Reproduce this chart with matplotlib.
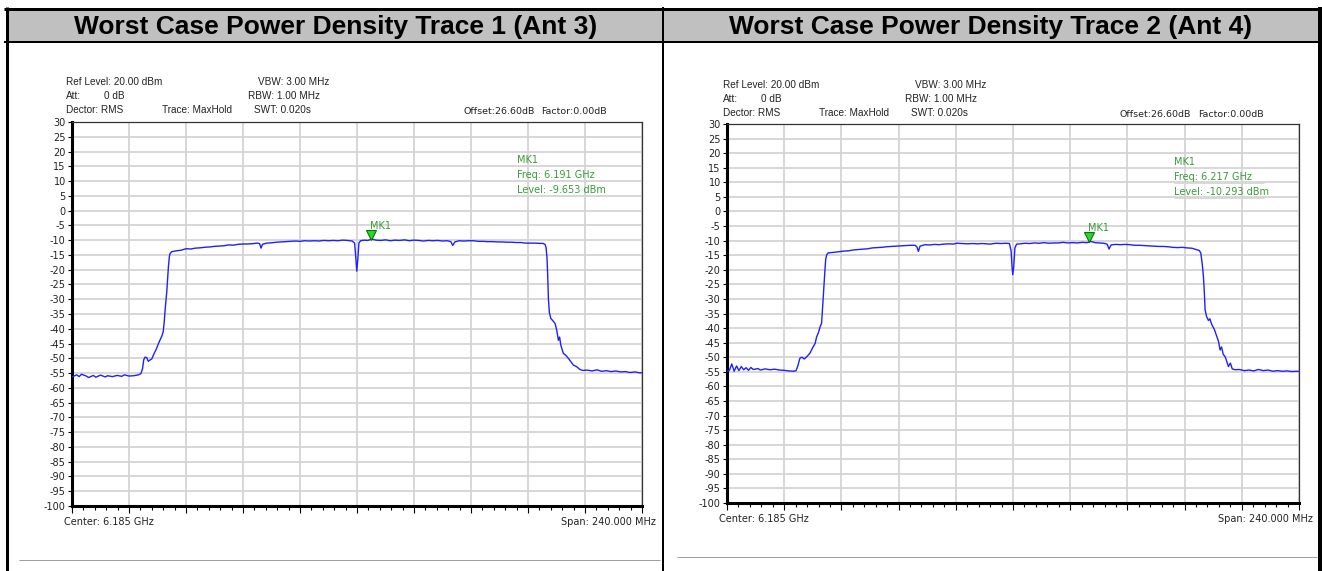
import numpy as np
import matplotlib.pyplot as plt
from matplotlib.lines import Line2D
from matplotlib.patches import Rectangle

# frequency offset from centre (MHz) and level (dBm)
freq_ant3 = [-120, -118, -117, -116, -114, -113, -111, -110, -108, -106, -105, -103, -101, -99, -98,
             -96, -94, -92, -91, -90.3, -89.8, -89.2, -88.5, -87.9, -87.2, -86.4, -85.5, -84.4, -83.6,
             -83.0, -82.2, -81.6, -81.2, -80.8, -80.4, -80.1, -79.7, -79.4, -79.0, -78.7, -78.0,
             -76, -74, -72, -70, -68, -66, -64, -62, -60, -58, -56, -54, -52, -50, -48, -46, -44, -42,
             -41, -40.4, -39.8, -38, -36, -34, -32, -30, -28, -26, -24, -22, -20, -18, -16, -14, -12,
             -10, -8, -6, -4, -2, -1.0, -0.5, -0.1, 0.3, 0.8, 1.5, 3, 4.5, 6.3, 8, 10, 12, 14, 16, 18,
             20, 22, 24, 26, 28, 30, 32, 34, 36, 38, 39.5, 40.3, 41.2, 43, 45, 47, 49, 51, 53, 55, 57,
             59, 61, 63, 65, 67, 69, 71, 73, 75, 77, 78.4, 79.2, 79.6, 80.0, 80.3, 80.6, 81.0, 81.6,
             82.5, 83.4, 84.1, 84.8, 85.3, 85.8, 86.9, 87.8, 89.0, 90.1, 91.1, 92.4, 93.9, 95, 97, 99,
             101, 103, 105, 107, 109, 111, 113, 115, 117, 119, 120]
level_ant3 = [-56.3, -55.6, -56.2, -55.4, -56.0, -56.5, -55.8, -56.4, -55.7, -56.3, -55.9, -56.2, -55.8,
              -56.1, -55.6, -56.0, -55.9, -55.6, -55.2, -53.5, -50.5, -49.6, -49.8, -51.0, -50.6, -50.2,
              -48.5, -46.7, -45.0, -43.9, -42.5, -41.0, -38.0, -33.7, -30.0, -27.5, -22.5, -19.0, -15.5,
              -14.5, -13.9,
              -13.6, -13.4, -12.9, -13.0, -12.7, -12.6, -12.4, -12.3, -12.1, -12.0, -11.9, -11.6, -11.7,
              -11.4, -11.3, -11.3, -11.2, -11.0, -11.2, -12.7, -11.4, -11.0, -10.9, -10.7, -10.6, -10.5,
              -10.4, -10.3, -10.4, -10.2, -10.3, -10.2, -10.3, -10.1, -10.2, -10.1, -10.2, -10.0, -10.1,
              -10.3, -11.0, -16.0, -20.5, -17.0, -11.0, -10.2, -10.0, -10.1, -9.65, -10.0, -10.1, -9.9,
              -10.2, -10.0, -10.1, -9.9, -10.2, -10.0, -10.1, -10.3, -10.1, -10.2, -10.1, -10.3, -10.2,
              -10.5, -11.8, -10.6, -10.2, -10.3, -10.2, -10.2, -10.4, -10.4, -10.5, -10.5, -10.6, -10.6,
              -10.7, -10.7, -10.8, -10.8, -11.0, -11.0, -11.0, -11.1, -11.1, -11.5, -12.5, -16.0, -22.0,
              -30.0, -34.5, -36.5, -37.3, -38.2, -40.5, -43.9, -42.8, -45.5, -48.4, -48.9, -50.0, -51.2,
              -52.3, -52.8, -53.8, -54.1, -54.0, -54.3, -53.9, -54.4, -54.2, -54.5, -54.3, -54.6, -54.5,
              -54.8, -54.6, -54.9, -54.9]

freq_ant4 = [-120, -119, -118, -117, -116, -115, -114, -113, -112, -111, -110, -109, -107, -106, -104,
             -102, -100, -98, -96, -94, -92, -91, -90.3, -89.4, -88.5, -87.6, -86.6, -85.2, -84.1, -83,
             -82.4, -81.7, -80.9, -80.3, -79.9, -79.6, -79.2, -78.9, -78.6, -78.2, -77.5, -75, -73, -71,
             -69, -67, -65.6, -63, -61, -59, -57, -55, -53, -51, -49, -47.4, -45, -43, -41, -40.3, -39.7,
             -39, -37, -35, -33, -31, -29, -27, -25, -23.6, -21, -19, -17, -15, -13, -11, -9.6, -7, -5,
             -3, -1.5, -0.8, -0.4, -0.1, 0.3, 0.8, 1.5, 3, 5, 7, 9, 11, 13, 15, 17, 19, 21, 23, 25, 27,
             29, 31, 32.7, 34.5, 36, 38, 39.5, 40.3, 41.1, 43, 45, 47, 49, 51, 53, 55, 57, 59, 61, 63,
             65, 67, 69, 71, 73, 75, 77.1, 78.2, 78.8, 79.4, 79.9, 80.3, 80.6, 81.2, 82.0, 82.6, 83.4,
             84.5, 85.5, 86.2, 86.9, 87.5, 88.2, 89.0, 89.7, 90.4, 91.2, 92.0, 93.2, 95, 97, 99, 101,
             103, 105, 107, 109, 111, 113, 115, 117, 119, 120]
level_ant4 = [-54.9, -54.5, -52.3, -54.8, -53.0, -54.6, -53.2, -54.3, -53.6, -54.5, -53.5, -54.2, -53.9,
              -54.4, -54.0, -54.3, -54.1, -54.4, -54.5, -54.7, -54.8, -54.6, -53.0, -50.3, -50.0, -50.6,
              -49.9, -48.6, -46.8, -45.2, -43.0, -41.7, -39.5, -38.3, -33.0, -29.2, -23.5, -20.0, -16.5,
              -14.9, -14.2, -14.0, -13.8, -13.6, -13.5, -13.2, -13.1, -12.9, -12.8, -12.5, -12.4, -12.3,
              -12.1, -12.0, -11.9, -11.8, -11.7, -11.6, -11.6, -12.2, -13.7, -11.9, -11.4, -11.5, -11.3,
              -11.4, -11.2, -11.1, -11.2, -10.9, -11.0, -11.1, -11.0, -11.1, -11.0, -11.1, -11.2, -10.9,
              -11.0, -10.9, -11.0, -13.5, -19.0, -21.7, -19.0, -12.5, -11.2, -11.1, -10.9, -11.0, -10.8,
              -10.9, -10.7, -10.9, -10.8, -10.8, -10.6, -10.8, -10.7, -10.8, -10.6, -10.7, -10.3, -10.7,
              -10.8, -10.9, -11.2, -12.9, -11.5, -11.3, -11.4, -11.3, -11.4, -11.6, -11.6, -11.7, -11.8,
              -11.9, -12.0, -12.0, -12.1, -12.3, -12.4, -12.3, -12.5, -12.6, -13.1, -13.4, -14.3, -18.0,
              -22.3, -28.0, -33.7, -36.0, -37.4, -36.8, -38.8, -40.5, -42.9, -44.5, -47.5, -46.5, -49.0,
              -49.8, -51.5, -53.2, -52.0, -54.0, -54.3, -54.2, -54.6, -54.4, -54.7, -54.2, -54.6, -54.4,
              -54.8, -54.6, -54.8, -54.7, -54.9, -54.8, -54.9]

titles = ["Worst Case Power Density Trace 1 (Ant 3)", "Worst Case Power Density Trace 2 (Ant 4)"]
mk_freq = [6.191, 6.217]        # GHz
mk_level = [-9.653, -10.293]    # dBm
center_ghz = 6.185
span_mhz = 240.0
y_ticks = list(range(30, -101, -5))

W, H = 1322, 571
fig = plt.figure(figsize=(W / 100, H / 100), dpi=100)
fig.patch.set_facecolor('white')


def fx(px):
    return px / W


def fy(py):
    return 1 - py / H


def hline(x0, x1, y, lw, color='black'):
    fig.add_artist(Line2D([fx(x0), fx(x1)], [fy(y), fy(y)], transform=fig.transFigure,
                          color=color, lw=lw * 0.72, solid_capstyle='butt'))


def vline(x, y0, y1, lw, color='black'):
    fig.add_artist(Line2D([fx(x), fx(x)], [fy(y0), fy(y1)], transform=fig.transFigure,
                          color=color, lw=lw * 0.72, solid_capstyle='butt'))


# table frame and grey header row
fig.add_artist(Rectangle((fx(7), fy(41)), fx(1318) - fx(7), 31 / H, transform=fig.transFigure,
                         facecolor='#c0c0c0', edgecolor='none'))
hline(4, 1322, 8.5, 3)
hline(4, 1322, 42, 2)
vline(6.5, 7, 571, 3)
vline(663, 7, 571, 2)
vline(1319.5, 7, 571, 4)
hline(19, 660, 560, 1, '#a0a0a0')
hline(677, 1317, 557, 1, '#a0a0a0')

for i, t in enumerate(titles):
    cx = 336 if i == 0 else 991
    fig.text(fx(cx), fy(27), t, ha='center', va='center', fontsize=19, fontweight='bold',
             family='Liberation Sans', color='black')

panels = [
    dict(box=(72, 642, 122, 506), freq=freq_ant3, level=level_ant3, dx=0, dy=0),
    dict(box=(727, 1299, 124, 503), freq=freq_ant4, level=level_ant4, dx=657, dy=3),
]

hdr = dict(fontsize=7.2, color='#222222', va='center', family='Liberation Sans')
small = dict(fontsize=7, color='#222222', va='center')
green = '#3a9a3a'

for i, p in enumerate(panels):
    l, r, t, b = p['box']
    ax = fig.add_axes([fx(l), fy(b), (r - l) / W, (b - t) / H])
    ax.plot(p['freq'], p['level'], color='#1f1fff', lw=1.0, zorder=3)
    ax.set_xlim(-span_mhz / 2, span_mhz / 2)
    ax.set_ylim(-100, 30)
    ax.set_xticks(np.arange(-120, 121, 24))
    ax.set_xticks(np.arange(-120, 121, 4.8), minor=True)
    ax.set_yticks(y_ticks)
    ax.set_yticklabels([str(v) for v in y_ticks])
    ax.tick_params(axis='x', which='major', length=5, width=0.8, direction='out', labelbottom=False)
    ax.tick_params(axis='x', which='minor', length=3, width=0.8, direction='out')
    ax.tick_params(axis='y', length=3, width=0.8, direction='out', pad=1.5, labelsize=7,
                   labelcolor='#222222')
    ax.grid(True, which='major', color='#d4d4d4', lw=1.3)
    ax.set_axisbelow(True)
    for s in ['left', 'bottom']:
        ax.spines[s].set_linewidth(2.2)
        ax.spines[s].set_color('black')
    for s in ['top', 'right']:
        ax.spines[s].set_linewidth(0.9)
        ax.spines[s].set_color('#333333')

    # marker
    mf = (mk_freq[i] - center_ghz) * 1000
    ml = mk_level[i]
    ax.plot([mf], [ml + 1.4], marker='v', ms=7, mfc='#22dd22', mec='#0f6f0f', mew=0.8,
            ls='none', zorder=4)
    ax.annotate('MK1', (mf, ml), xytext=(-1, 13), textcoords='offset pixels',
                fontsize=7, color=green, ha='left', va='center')

    dx, dy = p['dx'], p['dy']
    fig.text(fx(66 + dx), fy(82 + dy), 'Ref Level: 20.00 dBm', ha='left', **hdr)
    fig.text(fx(66 + dx), fy(96 + dy), 'Att:', ha='left', **hdr)
    fig.text(fx(104 + dx), fy(96 + dy), '0 dB', ha='left', **hdr)
    fig.text(fx(66 + dx), fy(110 + dy), 'Dector: RMS', ha='left', **hdr)
    fig.text(fx(162 + dx), fy(110 + dy), 'Trace: MaxHold', ha='left', **hdr)
    fig.text(fx(258 + dx), fy(82 + dy), 'VBW: 3.00 MHz', ha='left', **hdr)
    fig.text(fx(248 + dx), fy(96 + dy), 'RBW: 1.00 MHz', ha='left', **hdr)
    fig.text(fx(254 + dx), fy(110 + dy), 'SWT: 0.020s', ha='left', **hdr)
    fig.text(fx(463 + dx), fy(112 + dy), 'Offset:26.60dB', ha='left', fontsize=6.8,
             color='#222222', va='center')
    fig.text(fx(541 + dx), fy(112 + dy), 'Factor:0.00dB', ha='left', fontsize=6.8,
             color='#222222', va='center')
    fig.text(fx(64 + dx - 2 * i), fy(522 - dy), 'Center: %.3f GHz' % center_ghz, ha='left', **small)
    fig.text(fx(655 + dx + 1), fy(522 - dy), 'Span: %.3f MHz' % span_mhz, ha='right', **small)

    # marker readout
    mx = 517 + dx
    for k, s in enumerate(['MK1', 'Freq: %.3f GHz' % mk_freq[i], 'Level: %.3f dBm' % mk_level[i]]):
        yy = 160 + dy - (1 if i else 0) + 15 * k
        fig.text(fx(mx), fy(yy), s, ha='left', va='center', fontsize=7, color=green)
        hline(mx, mx + 90, yy + 6, 1, '#d8d8d8')

fig.savefig('out.png', dpi=100)
